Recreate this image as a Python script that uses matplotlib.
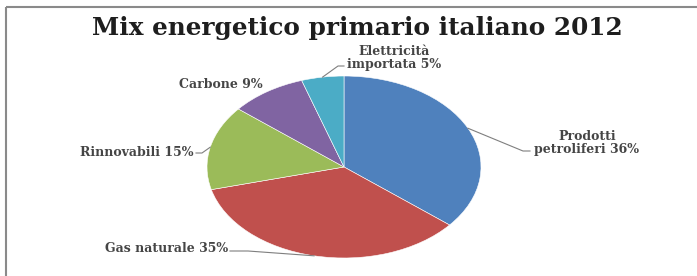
import matplotlib.pyplot as plt
import numpy as np

# Data ------------------------------------------------------------------------

labels = ["Prodotti\npetroliferi 36%", "Gas naturale 35%", "Rinnovabili 15%",
          "Carbone 9%", "Elettricità\nimportata 5%"]
shares = [36, 35, 15, 9, 5]
colors = ["#4F81BD", "#C0504D", "#9BBB59", "#8064A2", "#4BACC6"]
title = "Mix energetico primario italiano 2012"

# Layout (pixels) -------------------------------------------------------------

W, H = 697, 276
cx, cy, rx, ry = 344, 167, 137, 91
# label position, alignment, leader line points before the wedge (None = no line)
label_pos = [(587, 143, "center", [(530, 151), (523, 151)]),
             (228, 249, "right", [(230, 251), (248, 251)]),
             (194, 152, "right", [(196, 153), (202, 153)]),
             (263, 84, "right", None),
             (394, 58, "center", [(344, 66), (338, 66)])]

fig = plt.figure(figsize=(W/100, H/100), dpi=100)

# Pie on an axes stretched over the ellipse bounding box
ax = fig.add_axes([(cx - rx)/W, (H - cy - ry)/H, 2*rx/W, 2*ry/H])
ax.pie(shares, colors=colors, startangle=90, counterclock=False, radius=1,
       wedgeprops=dict(edgecolor="white", linewidth=0.4))
ax.set_aspect("auto")
ax.set_xlim(-1, 1)
ax.set_ylim(-1, 1)
ax.axis("off")

# Overlay in pixel coordinates for text, leader lines and frame
ov = fig.add_axes([0, 0, 1, 1], zorder=3)
ov.set_xlim(0, W)
ov.set_ylim(H, 0)
ov.axis("off")
ov.patch.set_alpha(0)

ov.plot([6, W], [7, 7], color="#8a8a8a", lw=1.5, solid_capstyle="butt")
ov.plot([6, 6], [7, H], color="#8a8a8a", lw=1.5, solid_capstyle="butt")

ov.text(357, 28, title, ha="center", va="center", fontsize=17.8,
        fontweight="bold", family="DejaVu Serif", color="#1e1e1e")

# wedge mid-angles (degrees, counter-clockwise from +x)
fracs = np.array(shares) / sum(shares)
ends = 90 - 360*np.cumsum(fracs)
mids = ends + 360*fracs/2

for lab, mid, (lx, ly, ha, pts) in zip(labels, mids, label_pos):
    ov.text(lx, ly, lab, ha=ha, va="center", fontsize=9, fontweight="bold",
            family="DejaVu Serif", color="#454545", linespacing=1.05)
    if pts is not None:
        a = np.radians(mid)
        px, py = cx + rx*np.cos(a), cy - ry*np.sin(a)
        xs = [p[0] for p in pts] + [px]
        ys = [p[1] for p in pts] + [py]
        ov.plot(xs, ys, color="#7f7f7f", lw=0.8)

fig.savefig("out.png", dpi=100, facecolor="white")
